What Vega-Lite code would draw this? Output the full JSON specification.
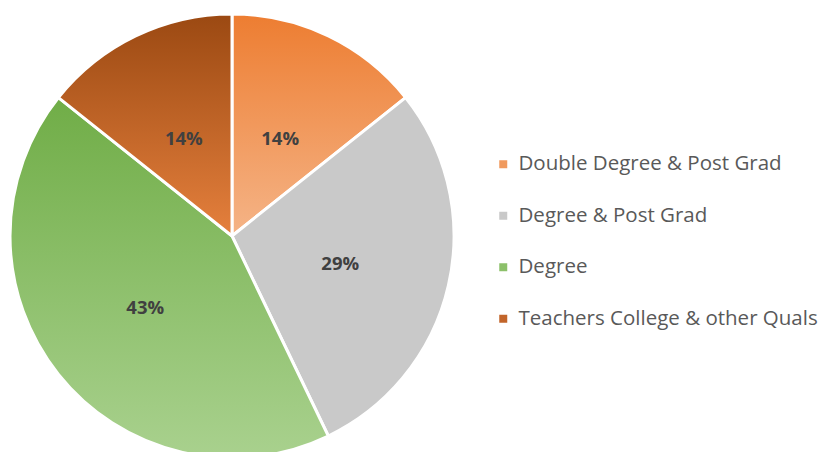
{
  "$schema": "https://vega.github.io/schema/vega-lite/v6.json",
  "width": 464,
  "height": 472,
  "padding": 0,
  "background": "white",
  "view": {"stroke": null},
  "data": {"values": [
    {"category": "Double Degree & Post Grad", "value": 1, "idx": 1, "label": "14%"},
    {"category": "Degree & Post Grad", "value": 2, "idx": 2, "label": "29%"},
    {"category": "Degree", "value": 3, "idx": 3, "label": "43%"},
    {"category": "Teachers College & other Quals", "value": 1, "idx": 4, "label": "14%"}
  ]},
  "transform": [
    {"stack": "value", "groupby": [], "as": ["s0", "s1"], "sort": [{"field": "idx", "order": "ascending"}]}
  ],
  "layer": [
    {
      "mark": {"type": "arc", "radius": 222, "stroke": "white", "strokeWidth": 3},
      "encoding": {
        "theta": {"field": "s0", "type": "quantitative", "scale": {"domain": [0, 7]}},
        "theta2": {"field": "s1"},
        "color": {
          "field": "category", "type": "nominal",
          "scale": {
            "domain": ["Double Degree & Post Grad", "Degree & Post Grad", "Degree", "Teachers College & other Quals"],
            "range": ["#F09A5E", "#C9C9C9", "#8CC06A", "#C2652A"]
          },
          "legend": {
            "title": null,
            "orient": "none",
            "legendX": 493,
            "legendY": 154,
            "symbolType": "square",
            "symbolSize": 64,
            "symbolStrokeWidth": 0,
            "symbolOpacity": 1,
            "labelFont": "Open Sans",
            "labelFontSize": 20.5,
            "labelColor": "#595959",
            "labelOffset": 5,
            "rowPadding": 30.5,
            "labelLimit": 400
          }
        }
      }
    },
    {
      "transform": [{"filter": "datum.idx == 1"}],
      "mark": {"type": "arc", "radius": 222, "stroke": "white", "strokeWidth": 3,
        "color": {"gradient": "linear", "x1": 0, "y1": 0, "x2": 0, "y2": 1, "stops": [{"offset": 0, "color": "#ED7D31"}, {"offset": 1, "color": "#F5B487"}]}},
      "encoding": {
        "theta": {"field": "s0", "type": "quantitative"},
        "theta2": {"field": "s1"}
      }
    },
    {
      "transform": [{"filter": "datum.idx == 2"}],
      "mark": {"type": "arc", "radius": 222, "stroke": "white", "strokeWidth": 3, "color": "#C9C9C9"},
      "encoding": {
        "theta": {"field": "s0", "type": "quantitative"},
        "theta2": {"field": "s1"}
      }
    },
    {
      "transform": [{"filter": "datum.idx == 3"}],
      "mark": {"type": "arc", "radius": 222, "stroke": "white", "strokeWidth": 3,
        "color": {"gradient": "linear", "x1": 0, "y1": 0, "x2": 0, "y2": 1, "stops": [{"offset": 0, "color": "#70AD47"}, {"offset": 1, "color": "#A9D18E"}]}},
      "encoding": {
        "theta": {"field": "s0", "type": "quantitative"},
        "theta2": {"field": "s1"}
      }
    },
    {
      "transform": [{"filter": "datum.idx == 4"}],
      "mark": {"type": "arc", "radius": 222, "stroke": "white", "strokeWidth": 3,
        "color": {"gradient": "linear", "x1": 0, "y1": 0, "x2": 0, "y2": 1, "stops": [{"offset": 0, "color": "#9B4912"}, {"offset": 1, "color": "#E5803D"}]}},
      "encoding": {
        "theta": {"field": "s0", "type": "quantitative"},
        "theta2": {"field": "s1"}
      }
    },
    {
      "mark": {"type": "text", "radius": 111, "dy": 3, "font": "Open Sans", "fontWeight": "bold", "fontSize": 18.5, "color": "#404040"},
      "encoding": {
        "theta": {"field": "value", "type": "quantitative", "stack": true},
        "order": {"field": "idx", "type": "quantitative"},
        "text": {"field": "label", "type": "nominal"}
      }
    }
  ]
}
